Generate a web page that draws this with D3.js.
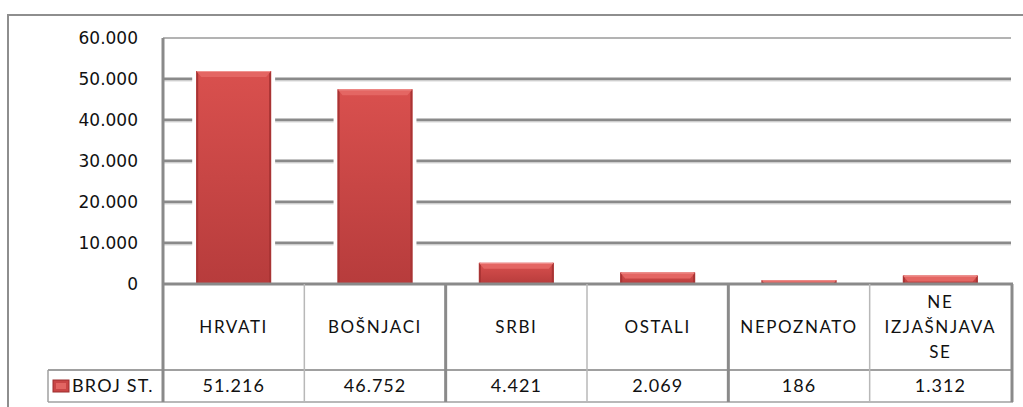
<!DOCTYPE html>
<html>
<head>
<meta charset="utf-8">
<script src="https://cdn.jsdelivr.net/npm/d3@7"></script>
<style>
  body { margin: 0; background: #fff; }
  svg { display: block; }
</style>
</head>
<body>
<div id="chart"></div>
<script>
const categories = ["HRVATI", "BOŠNJACI", "SRBI", "OSTALI", "NEPOZNATO", "NE IZJAŠNJAVA SE"];
const values = [51216, 46752, 4421, 2069, 186, 1312];
const yTicks = [0, 10000, 20000, 30000, 40000, 50000, 60000];
const seriesName = "BROJ ST.";

const W = 1023, H = 407;
const plotLeft = 163, plotRight = 1011, plotTop = 38, plotBottom = 284;
const catRowBottom = 370, dataRowBottom = 402, legendLeft = 48;
const lift = 3; // gornja 3D ploha stupca

// hrvatski zapis brojeva: 51.216
const locale = d3.formatLocale({ decimal: ",", thousands: ".", grouping: [3], currency: ["", ""] });
const fmt = locale.format(",");

const svg = d3.select("#chart").append("svg").attr("width", W).attr("height", H);

const defs = svg.append("defs");
const grad = defs.append("linearGradient").attr("id", "barGrad").attr("x1", 0).attr("y1", 0).attr("x2", 0).attr("y2", 1);
grad.append("stop").attr("offset", "0%").attr("stop-color", "#d9504e");
grad.append("stop").attr("offset", "100%").attr("stop-color", "#b73c3c");

const y = d3.scaleLinear().domain([0, 60000]).range([plotBottom, plotTop]);
const x = d3.scaleBand().domain(categories).range([plotLeft, plotRight]).paddingInner(0.47).paddingOuter(0.235);
const cols = d3.scaleBand().domain(categories).range([plotLeft, plotRight]);

// okvir
svg.append("path")
  .attr("d", `M8,${H + 5} L8,15 L${W + 5},15`)
  .attr("fill", "none").attr("stroke", "#8e8e8e").attr("stroke-width", 2);

// mreza
const grid = svg.append("g");
grid.selectAll("line.major")
  .data(yTicks.filter((t) => t > 0 && t < 60000))
  .enter().append("line")
  .attr("x1", plotLeft).attr("x2", plotRight)
  .attr("y1", (d) => y(d)).attr("y2", (d) => y(d))
  .attr("stroke", "#8a8a8a").attr("stroke-width", 3);
grid.selectAll("line.shadow")
  .data(yTicks.filter((t) => t > 0 && t < 60000))
  .enter().append("line")
  .attr("x1", plotLeft).attr("x2", plotRight)
  .attr("y1", (d) => y(d) + 2).attr("y2", (d) => y(d) + 2)
  .attr("stroke", "#d8d8d8").attr("stroke-width", 1);
grid.append("line")
  .attr("x1", plotLeft).attr("x2", plotRight)
  .attr("y1", y(60000)).attr("y2", y(60000))
  .attr("stroke", "#9a9a9a").attr("stroke-width", 1.5);

// stupci
const top3d = (d) => y(d) - lift;
const bars = svg.append("g").selectAll("g").data(values).enter().append("g");
bars.append("rect")
  .attr("x", (d, i) => x(categories[i]) - 4)
  .attr("width", x.bandwidth() + 8)
  .attr("y", (d) => top3d(d) - 2)
  .attr("height", (d) => plotBottom - top3d(d) + 2)
  .attr("fill", "#fff");
bars.append("rect")
  .attr("x", (d, i) => x(categories[i]))
  .attr("width", x.bandwidth())
  .attr("y", (d) => top3d(d))
  .attr("height", (d) => plotBottom - top3d(d))
  .attr("fill", "url(#barGrad)");
bars.append("rect")
  .attr("x", (d, i) => x(categories[i]))
  .attr("width", 2)
  .attr("y", (d) => top3d(d))
  .attr("height", (d) => plotBottom - top3d(d))
  .attr("fill", "#a83434");
bars.append("rect")
  .attr("x", (d, i) => x(categories[i]) + x.bandwidth() - 2)
  .attr("width", 2)
  .attr("y", (d) => top3d(d))
  .attr("height", (d) => plotBottom - top3d(d))
  .attr("fill", "#a83434");
bars.append("polygon")
  .attr("points", (d, i) => {
    const x0 = x(categories[i]), x1 = x0 + x.bandwidth();
    const t = top3d(d), b = Math.min(t + 6, plotBottom);
    const c = Math.min(5, b - t);
    return `${x0},${t} ${x1},${t} ${x1 - c},${b} ${x0 + c},${b}`;
  })
  .attr("fill", "#e46663");
bars.append("line")
  .attr("x1", (d, i) => x(categories[i]) + 1)
  .attr("x2", (d, i) => x(categories[i]) + x.bandwidth() - 1)
  .attr("y1", (d) => top3d(d) + 0.5).attr("y2", (d) => top3d(d) + 0.5)
  .attr("stroke", "#f09390").attr("stroke-width", 1);

// os y
const yAxis = d3.axisLeft(y).tickValues(yTicks).tickFormat(fmt).tickSize(0).tickPadding(0);
const yg = svg.append("g").attr("transform", "translate(138,0)").call(yAxis);
yg.select(".domain").remove();
yg.selectAll("text")
  .attr("font-family", "DejaVu Sans").attr("font-size", 17).attr("fill", "#111");

// tablica
const table = svg.append("g");
table.append("line")
  .attr("x1", plotLeft).attr("x2", plotRight + 2)
  .attr("y1", plotBottom).attr("y2", plotBottom)
  .attr("stroke", "#8a8a8a").attr("stroke-width", 3);
table.append("line")
  .attr("x1", legendLeft).attr("x2", plotRight + 2)
  .attr("y1", catRowBottom).attr("y2", catRowBottom)
  .attr("stroke", "#a0a0a0").attr("stroke-width", 2);
table.append("line")
  .attr("x1", legendLeft).attr("x2", plotRight + 2)
  .attr("y1", dataRowBottom).attr("y2", dataRowBottom)
  .attr("stroke", "#a0a0a0").attr("stroke-width", 1.5);
table.append("line")
  .attr("x1", legendLeft).attr("x2", legendLeft)
  .attr("y1", catRowBottom).attr("y2", dataRowBottom)
  .attr("stroke", "#a0a0a0").attr("stroke-width", 1.5);

const bounds = categories.map((c) => cols(c)).concat([plotRight + 1]);
table.selectAll("line.col")
  .data(bounds)
  .enter().append("line")
  .attr("x1", (d) => d).attr("x2", (d) => d)
  .attr("y1", (d, i) => (i === 0 ? plotTop : plotBottom))
  .attr("y2", dataRowBottom)
  .attr("stroke", (d, i) => (i % 2 === 0 ? "#8a8a8a" : "#b8b8b8"))
  .attr("stroke-width", (d, i) => (i % 2 === 0 ? 3 : 1.5));

// nazivi kategorija, s prelamanjem
const catLabels = table.selectAll("text.cat")
  .data(categories)
  .enter().append("text")
  .attr("class", "cat")
  .attr("text-anchor", "middle")
  .attr("font-family", "Lato").attr("font-size", 17)
  .attr("letter-spacing", 1.6).attr("fill", "#111");

catLabels.each(function (d) {
  const el = d3.select(this);
  const maxW = cols.bandwidth() - 12;
  const words = d.split(" ");
  const lines = [];
  let line = [];
  const probe = el.append("tspan");
  words.forEach((w) => {
    const test = line.concat([w]).join(" ");
    probe.text(test);
    if (probe.node().getComputedTextLength() > maxW && line.length) {
      lines.push(line.join(" "));
      line = [w];
    } else {
      line.push(w);
    }
  });
  lines.push(line.join(" "));
  probe.remove();
  const cx = cols(d) + cols.bandwidth() / 2;
  const mid = (plotBottom + catRowBottom) / 2;
  const lh = 25;
  lines.forEach((l, k) => {
    el.append("tspan")
      .attr("x", cx)
      .attr("y", mid + (k - (lines.length - 1) / 2) * lh)
      .attr("dy", "0.35em")
      .text(l);
  });
});

// vrijednosti
table.selectAll("text.val")
  .data(values)
  .enter().append("text")
  .attr("x", (d, i) => cols(categories[i]) + cols.bandwidth() / 2)
  .attr("y", (catRowBottom + dataRowBottom) / 2)
  .attr("dy", "0.35em")
  .attr("text-anchor", "middle")
  .attr("font-family", "Lato").attr("font-size", 18)
  .attr("letter-spacing", 1).attr("fill", "#111")
  .text((d) => fmt(d));

// legenda
const leg = table.append("g");
leg.append("rect")
  .attr("x", legendLeft + 5).attr("y", (catRowBottom + dataRowBottom) / 2 - 6)
  .attr("width", 16).attr("height", 12)
  .attr("fill", "#c94545").attr("stroke", "#9c2f2f").attr("stroke-width", 1);
leg.append("rect")
  .attr("x", legendLeft + 8).attr("y", (catRowBottom + dataRowBottom) / 2 - 3)
  .attr("width", 10).attr("height", 6)
  .attr("fill", "#e26562");
leg.append("text")
  .attr("x", legendLeft + 24)
  .attr("y", (catRowBottom + dataRowBottom) / 2)
  .attr("dy", "0.35em")
  .attr("font-family", "Lato").attr("font-size", 18)
  .attr("letter-spacing", 1.2).attr("fill", "#111")
  .text(seriesName);
</script>
</body>
</html>
